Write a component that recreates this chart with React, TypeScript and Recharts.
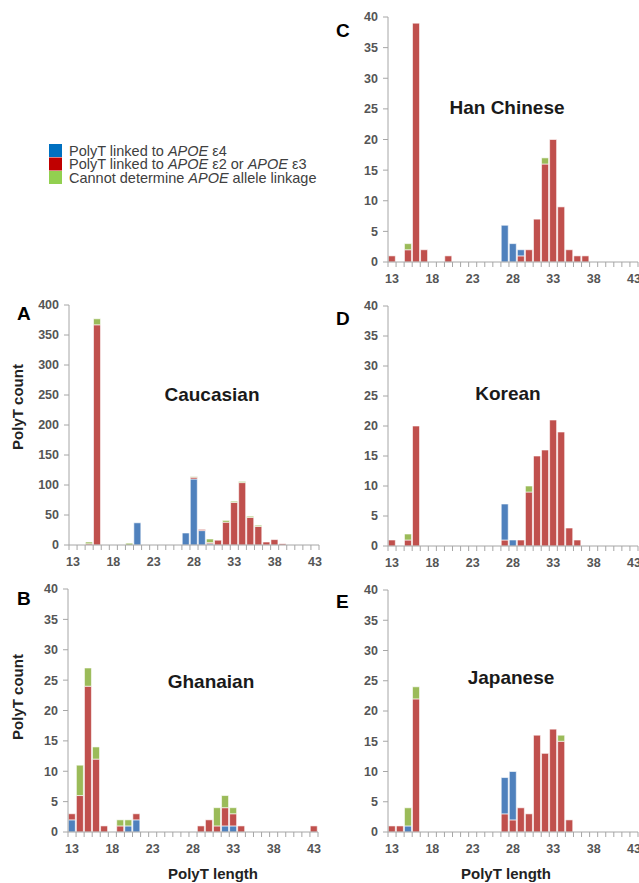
import React from "react";
import { BarChart, Bar, XAxis, YAxis } from "recharts";

// PolyT lengths on the x axis (one category per length)
const LENGTHS = [13, 14, 15, 16, 17, 18, 19, 20, 21, 22, 23, 24, 25, 26, 27, 28, 29, 30, 31, 32, 33, 34, 35, 36, 37, 38, 39, 40, 41, 42, 43];
const X_LABELS = [13, 18, 23, 28, 33, 38, 43];

const TICKS_400 = [0, 50, 100, 150, 200, 250, 300, 350, 400];
const TICKS_40 = [0, 5, 10, 15, 20, 25, 30, 35, 40];

// A - Caucasian
const CAU_BLUE = [0, 0, 0, 0, 0, 0, 0, 0, 37, 0, 0, 0, 0, 0, 20, 110, 24, 2, 0, 0, 0, 0, 0, 0, 0, 0, 0, 0, 0, 0, 0];
const CAU_RED = [0, 0, 2, 367, 0, 0, 0, 0, 0, 0, 0, 0, 0, 0, 0, 3, 2, 2, 8, 38, 71, 104, 46, 31, 5, 9, 2, 0, 0, 0, 0];
const CAU_GREEN = [0, 0, 3, 10, 0, 0, 0, 3, 0, 0, 0, 0, 0, 0, 0, 1, 0, 6, 0, 3, 2, 2, 2, 2, 0, 0, 0, 0, 0, 0, 0];

// B - Ghanaian
const GHA_BLUE = [2, 0, 0, 0, 0, 0, 0, 1, 2, 0, 0, 0, 0, 0, 0, 0, 0, 0, 0, 1, 1, 0, 0, 0, 0, 0, 0, 0, 0, 0, 0];
const GHA_RED = [1, 6, 24, 12, 1, 0, 1, 0, 1, 0, 0, 0, 0, 0, 0, 0, 1, 2, 1, 3, 2, 1, 0, 0, 0, 0, 0, 0, 0, 0, 1];
const GHA_GREEN = [0, 5, 3, 2, 0, 0, 1, 1, 0, 0, 0, 0, 0, 0, 0, 0, 0, 0, 3, 2, 1, 0, 0, 0, 0, 0, 0, 0, 0, 0, 0];

// C - Han Chinese
const HAN_BLUE = [0, 0, 0, 0, 0, 0, 0, 0, 0, 0, 0, 0, 0, 0, 6, 3, 1, 0, 0, 0, 0, 0, 0, 0, 0, 0, 0, 0, 0, 0, 0];
const HAN_RED = [1, 0, 2, 39, 2, 0, 0, 1, 0, 0, 0, 0, 0, 0, 0, 0, 1, 2, 7, 16, 20, 9, 2, 1, 1, 0, 0, 0, 0, 0, 0];
const HAN_GREEN = [0, 0, 1, 0, 0, 0, 0, 0, 0, 0, 0, 0, 0, 0, 0, 0, 0, 0, 0, 1, 0, 0, 0, 0, 0, 0, 0, 0, 0, 0, 0];

// D - Korean
const KOR_BLUE = [0, 0, 0, 0, 0, 0, 0, 0, 0, 0, 0, 0, 0, 0, 6, 1, 0, 0, 0, 0, 0, 0, 0, 0, 0, 0, 0, 0, 0, 0, 0];
const KOR_RED = [1, 0, 1, 20, 0, 0, 0, 0, 0, 0, 0, 0, 0, 0, 1, 0, 1, 9, 15, 16, 21, 19, 3, 1, 0, 0, 0, 0, 0, 0, 0];
const KOR_GREEN = [0, 0, 1, 0, 0, 0, 0, 0, 0, 0, 0, 0, 0, 0, 0, 0, 0, 1, 0, 0, 0, 0, 0, 0, 0, 0, 0, 0, 0, 0, 0];

// E - Japanese
const JPN_BLUE = [0, 0, 1, 0, 0, 0, 0, 0, 0, 0, 0, 0, 0, 0, 6, 8, 0, 0, 0, 0, 0, 0, 0, 0, 0, 0, 0, 0, 0, 0, 0];
const JPN_RED = [1, 1, 0, 22, 0, 0, 0, 0, 0, 0, 0, 0, 0, 0, 3, 2, 4, 3, 16, 13, 17, 15, 2, 0, 0, 0, 0, 0, 0, 0, 0];
const JPN_GREEN = [0, 0, 3, 2, 0, 0, 0, 0, 0, 0, 0, 0, 0, 0, 0, 0, 0, 0, 0, 0, 0, 1, 0, 0, 0, 0, 0, 0, 0, 0, 0];

const BLUE = "#4f81bd";
const RED = "#c0504d";
const GREEN = "#9bbb59";
const AXIS = "#a6a6a6";
const FONT = "'Liberation Sans', Arial, sans-serif";

const PLOT_W = 250;
const BAND = PLOT_W / LENGTHS.length;

const buildData = (blue: number[], red: number[], green: number[]) =>
  LENGTHS.map((len, i) => ({ len, blue: blue[i], red: red[i], green: green[i] }));

function XTick(props: any) {
  const { x, y, payload } = props;
  const v = payload.value;
  const half = BAND / 2;
  return (
    <g>
      <line x1={x - half} x2={x - half} y1={y} y2={y + 5} stroke={AXIS} />
      {v === LENGTHS[LENGTHS.length - 1] && <line x1={x + half} x2={x + half} y1={y} y2={y + 5} stroke={AXIS} />}
      {X_LABELS.includes(v) && (
        <text x={x} y={y + 21} textAnchor="middle" fontSize={12.5} fontWeight="bold" fill="#555" fontFamily={FONT}>
          {v}
        </text>
      )}
    </g>
  );
}

interface PanelProps {
  left: number;
  top: number;
  bottom: number;
  yMax: number;
  yTicks: number[];
  data: ReturnType<typeof buildData>;
  redFirst?: boolean;
}

function Panel({ left, top, bottom, yMax, yTicks, data, redFirst }: PanelProps) {
  const order = redFirst ? ["red", "blue", "green"] : ["blue", "red", "green"];
  const colors: Record<string, string> = { blue: BLUE, red: RED, green: GREEN };
  return (
    <div style={{ position: "absolute", left: left - 60, top: top - 10 }}>
      <BarChart
        width={PLOT_W + 70}
        height={bottom - top + 40}
        data={data}
        margin={{ top: 10, right: 10, bottom: 0, left: 0 }}
        barCategoryGap="4%"
      >
        <XAxis
          dataKey="len"
          height={30}
          interval={0}
          tickSize={0}
          tickMargin={0}
          tickLine={false}
          axisLine={{ stroke: AXIS }}
          tick={XTick}
        />
        <YAxis
          width={60}
          type="number"
          domain={[0, yMax]}
          ticks={yTicks}
          interval={0}
          tickSize={5}
          tickMargin={5}
          axisLine={{ stroke: AXIS }}
          tickLine={{ stroke: AXIS }}
          tick={{ fontSize: 12.5, fontWeight: "bold", fill: "#555", fontFamily: FONT }}
        />
        {order.map((k) => (
          <Bar key={k} dataKey={k} stackId="a" fill={colors[k]} stroke="#fff" strokeWidth={0.6} isAnimationActive={false} />
        ))}
      </BarChart>
    </div>
  );
}

export default function App() {
  return (
    <div style={{ position: "absolute", left: 0, top: 0, width: 639, height: 883, overflow: "hidden", background: "#fff", fontFamily: FONT }}>
      <Panel left={69} top={305} bottom={545} yMax={400} yTicks={TICKS_400} data={buildData(CAU_BLUE, CAU_RED, CAU_GREEN)} />
      <Panel left={68} top={589} bottom={832} yMax={40} yTicks={TICKS_40} data={buildData(GHA_BLUE, GHA_RED, GHA_GREEN)} />
      <Panel left={388} top={17} bottom={262} yMax={40} yTicks={TICKS_40} data={buildData(HAN_BLUE, HAN_RED, HAN_GREEN)} redFirst />
      <Panel left={388} top={306} bottom={546} yMax={40} yTicks={TICKS_40} data={buildData(KOR_BLUE, KOR_RED, KOR_GREEN)} redFirst />
      <Panel left={388} top={590} bottom={832} yMax={40} yTicks={TICKS_40} data={buildData(JPN_BLUE, JPN_RED, JPN_GREEN)} redFirst />

      <svg width={639} height={883} style={{ position: "absolute", left: 0, top: 0, pointerEvents: "none" }} fontFamily={FONT}>
        {/* legend */}
        <rect x={49} y={144} width={13} height={13} fill="#0070c0" />
        <rect x={49} y={157.5} width={13} height={13} fill="#c00000" />
        <rect x={49} y={171} width={13} height={13} fill="#92d050" />
        <g fontSize={14.5} fill="#404040">
          <text x={69} y={155.5}>
            PolyT linked to <tspan fontStyle="italic">APOE</tspan> ε4
          </text>
          <text x={69} y={169}>
            PolyT linked to <tspan fontStyle="italic">APOE</tspan> ε2 or <tspan fontStyle="italic">APOE</tspan> ε3
          </text>
          <text x={69} y={182.5}>
            Cannot determine <tspan fontStyle="italic">APOE</tspan> allele linkage
          </text>
        </g>

        {/* panel letters */}
        <g fontSize={19} fontWeight="bold" fill="#000">
          <text x={17} y={320}>A</text>
          <text x={17} y={605}>B</text>
          <text x={336} y={37}>C</text>
          <text x={336} y={325}>D</text>
          <text x={336} y={608}>E</text>
        </g>

        {/* population titles */}
        <g fontSize={19} fontWeight="bold" fill="#1a1a1a" textAnchor="middle">
          <text x={212} y={401}>Caucasian</text>
          <text x={211} y={688}>Ghanaian</text>
          <text x={507} y={114}>Han Chinese</text>
          <text x={508} y={400}>Korean</text>
          <text x={511} y={684}>Japanese</text>
        </g>

        {/* axis titles */}
        <g fontSize={15} fontWeight="bold" fill="#222" textAnchor="middle">
          <text transform="translate(23,407) rotate(-90)">PolyT count</text>
          <text transform="translate(23,697) rotate(-90)">PolyT count</text>
          <text x={213} y={879}>PolyT length</text>
          <text x={506} y={879}>PolyT length</text>
        </g>
      </svg>
    </div>
  );
}
